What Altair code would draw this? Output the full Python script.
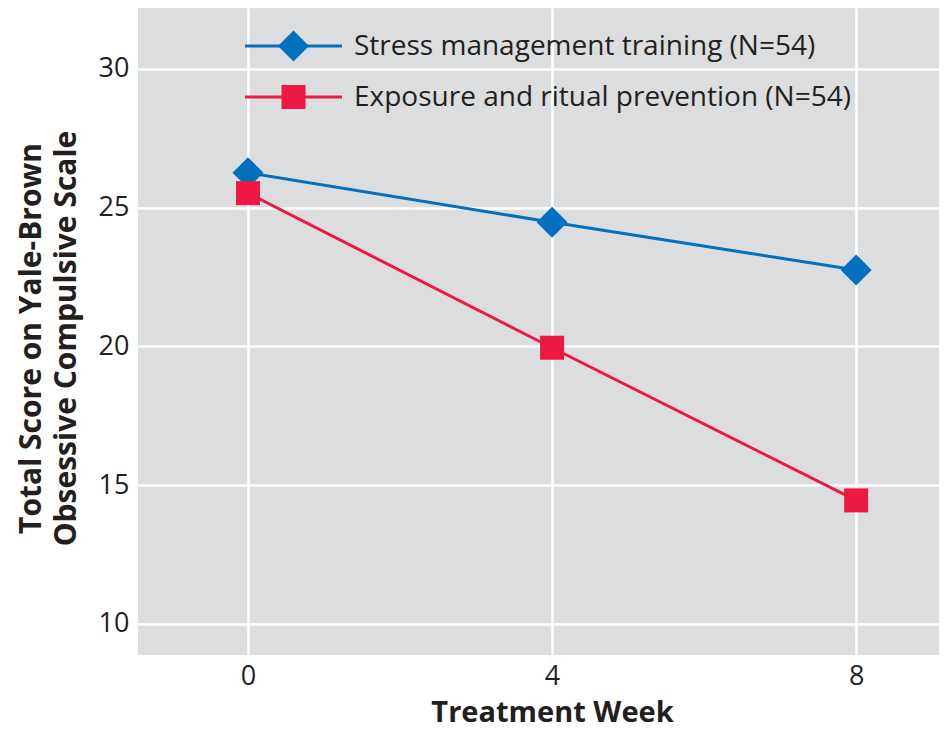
import altair as alt
import pandas as pd

weeks = [0, 4, 8]
series_names = ["Stress management training (N=54)", "Exposure and ritual prevention (N=54)"]
smt_scores = [26.25, 24.47, 22.75]
erp_scores = [25.52, 19.95, 14.45]
colors = ["#0070BF", "#EE1845"]
marker_shapes = ["diamond", "square"]
marker_sizes = [961, 576]
y_ticks = [10, 15, 20, 25, 30]
x_ticks = [0, 4, 8]

rows = []
for w, v in zip(weeks, smt_scores):
    rows.append({"week": w, "score": v, "series": series_names[0]})
for w, v in zip(weeks, erp_scores):
    rows.append({"week": w, "score": v, "series": series_names[1]})
df = pd.DataFrame(rows)

FONT = "Open Sans"
TXT = "#231F20"

x = alt.X("week:Q", scale=alt.Scale(domain=[-1.447, 9.09], nice=False, zero=False),
          axis=alt.Axis(values=x_ticks, title="Treatment Week", labelFontSize=27,
                        titleFontSize=29, titleFontWeight="bold", labelPadding=8,
                        titlePadding=9, ticks=False, domain=False, grid=True,
                        titleX=414, titleAlign="center"))
y = alt.Y("score:Q", scale=alt.Scale(domain=[8.88, 32.19], nice=False, zero=False),
          axis=alt.Axis(values=y_ticks, title=["Total Score on Yale-Brown", "Obsessive Compulsive Scale"],
                        labelFontSize=27, titleFontSize=30, titleFontWeight="bold",
                        labelPadding=9, titlePadding=17, ticks=False, domain=False, grid=True,
                        titleLineHeight=35, titleY=330))
color = alt.Color("series:N", scale=alt.Scale(domain=series_names, range=colors), legend=None)

lines = alt.Chart(df).mark_line(strokeWidth=3).encode(x=x, y=y, color=color, detail="series:N")

point_layers = []
for name, shp, sz in zip(series_names, marker_shapes, marker_sizes):
    point_layers.append(
        alt.Chart(df).transform_filter(alt.datum.series == name)
        .mark_point(filled=True, opacity=1, shape=shp, size=sz)
        .encode(x=x, y=y, color=color)
    )

# legend drawn inside the plot (top left), one row per series
legend_rows_y = [38, 89]
legend_layers = []
for name, col, shp, sz, ly in zip(series_names, colors, marker_shapes, marker_sizes, legend_rows_y):
    ldf = pd.DataFrame({"series": [name]})
    base = alt.Chart(ldf)
    legend_layers.append(base.mark_rule(color=col, strokeWidth=3).encode(
        x=alt.value(107), x2=alt.value(204), y=alt.value(ly)))
    legend_layers.append(base.mark_point(filled=True, opacity=1, color=col, shape=shp, size=sz).encode(
        x=alt.value(155.5), y=alt.value(ly)))
    legend_layers.append(base.mark_text(align="left", baseline="middle", font=FONT, fontSize=28,
                                        color=TXT, dy=1).encode(
        x=alt.value(216), y=alt.value(ly), text="series:N"))

chart = alt.layer(lines, *point_layers, *legend_layers).properties(
    width=801, height=647,
    autosize=alt.AutoSizeParams(type="none"),
    padding={"left": 130, "top": 0, "right": 0, "bottom": 74},
    background="white",
).configure_view(fill="#DCDDDF", stroke=None).configure_axis(
    gridColor="white", gridWidth=2.5, labelFont=FONT, titleFont=FONT,
    labelColor=TXT, titleColor=TXT,
)

chart.save("out.html", embed_options={"renderer": "svg", "actions": False})
